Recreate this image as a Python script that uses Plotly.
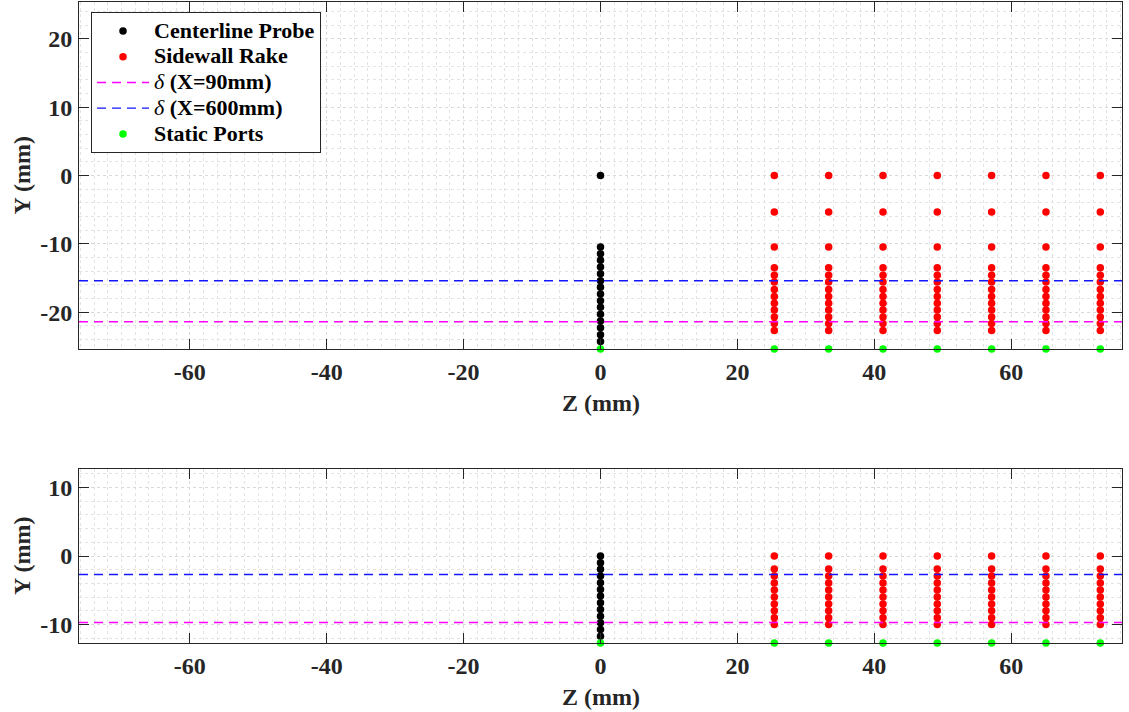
import plotly.graph_objects as go

# ---------------- data ----------------
# Top panel
cl_y_top = [0.0, -10.45, -11.45, -12.4, -13.4, -14.4, -15.4, -16.35, -17.35, -18.35,
            -19.3, -20.3, -21.3, -22.3, -23.3, -24.3]
rake_z = [25.4, 33.34, 41.28, 49.21, 57.15, 65.09, 73.03]
rake_y_top = [0.0, -5.35, -10.45, -13.5, -14.6, -15.6, -16.7, -17.7, -18.7, -19.7,
              -20.7, -21.65, -22.7]
static_z = [0.0, 25.4, 33.34, 41.28, 49.21, 57.15, 65.09, 73.03]
static_y_top = -25.4
delta90_top = -21.4
delta600_top = -15.4

# Bottom panel
cl_y_bot = [0.0, -0.98, -1.95, -2.93, -3.9, -4.88, -5.85, -6.83, -7.8, -8.78,
            -9.75, -10.73, -11.7]
rake_y_bot = [0.0, -1.9, -2.92, -3.94, -4.95, -5.97, -6.99, -8.0, -9.02, -10.0]
static_y_bot = -12.7
delta90_bot = -9.7
delta600_bot = -2.7

z_range = [-76.2, 76.2]
x_ticks = [-60, -40, -20, 0, 20, 40, 60]
x_ticktext = ["-60", "-40", "-20", "0", "20", "40", "60"]
y_ticks_top = [-20, -10, 0, 10, 20]
y_ticktext_top = ["-20", "-10", "0", "10", "20"]
y_ticks_bot = [-10, 0, 10]
y_ticktext_bot = ["-10", "0", "10"]

legend_names = ["Centerline Probe", "Sidewall Rake", "(X=90mm)", "(X=600mm)", "Static Ports"]

# ---------------- figure ----------------
W, H = 1129, 712
FONT = "Liberation Serif"
MS = 7.5
LEG_PX = 22

def lname(i, delta=False):
    t = legend_names[i]
    if delta:
        return f"<span style='font-size:{LEG_PX}px'><i>δ</i> <b>{t}</b></span>"
    return f"<span style='font-size:{LEG_PX}px'><b>{t}</b></span>"

fig = go.Figure()

def add_panel(idx, cl_y, rake_y, st_y, d90, d600, show):
    xa = "x" if idx == 1 else "x2"
    ya = "y" if idx == 1 else "y2"
    fig.add_trace(go.Scatter(
        x=[0.0] * len(cl_y), y=cl_y, mode="markers", name=lname(0),
        marker=dict(color="black", size=MS), showlegend=show, xaxis=xa, yaxis=ya))
    rx = [z for z in rake_z for _ in rake_y]
    ry = [y for _ in rake_z for y in rake_y]
    fig.add_trace(go.Scatter(
        x=rx, y=ry, mode="markers", name=lname(1),
        marker=dict(color="#ff0000", size=MS), showlegend=show, xaxis=xa, yaxis=ya))
    fig.add_trace(go.Scatter(
        x=z_range, y=[d90, d90], mode="lines", name=lname(2, True),
        line=dict(color="#ff00ff", width=1.5, dash="9px,6px"), showlegend=show,
        xaxis=xa, yaxis=ya))
    fig.add_trace(go.Scatter(
        x=z_range, y=[d600, d600], mode="lines", name=lname(3, True),
        line=dict(color="#1515ff", width=1.4, dash="9px,6px"), showlegend=show,
        xaxis=xa, yaxis=ya))
    fig.add_trace(go.Scatter(
        x=static_z, y=[st_y] * len(static_z), mode="markers", name=lname(4),
        marker=dict(color="#00ff00", size=MS), showlegend=show,
        xaxis=xa, yaxis=ya))

add_panel(1, cl_y_top, rake_y_top, static_y_top, delta90_top, delta600_top, True)
add_panel(2, cl_y_bot, rake_y_bot, static_y_bot, delta90_bot, delta600_bot, False)

for tr in fig.data:
    tr.cliponaxis = False

tickfont = dict(family=FONT, size=24, color="#262626", weight="bold")
titlefont = dict(family=FONT, size=24, color="#262626", weight="bold")

common = dict(
    ticks="inside", ticklen=10, tickcolor="#262626", tickwidth=1,
    showline=True, linecolor="#262626", linewidth=1, mirror="ticks",
    showgrid=True, gridcolor="#dadada", griddash="dot", gridwidth=1,
    minor=dict(dtick=2, showgrid=True, gridcolor="#e3e3e3", griddash="dot", gridwidth=1),
    zeroline=False, tickfont=tickfont, automargin=False,
)

def xaxis_cfg(anchor):
    return dict(domain=[79 / W, 1122 / W], range=z_range, anchor=anchor,
                tickvals=x_ticks, ticktext=x_ticktext, ticklabelstandoff=1, **common)

def yaxis_cfg(dom, rng, tv, tt, anchor):
    return dict(domain=dom, range=rng, anchor=anchor, tickvals=tv, ticktext=tt,
                ticklabelstandoff=1, **common)

top_y = (2, 349)
bot_y = (469, 643)

annotations = []
for (y0, y1) in (top_y, bot_y):
    annotations.append(dict(
        text="Z (mm)", xref="paper", yref="paper", x=600.5 / W, y=1 - (y1 + 54) / H,
        xanchor="center", yanchor="middle", showarrow=False, font=titlefont))
    annotations.append(dict(
        text="Y (mm)", xref="paper", yref="paper", x=22 / W, y=1 - ((y0 + y1) / 2) / H,
        xanchor="center", yanchor="middle", showarrow=False, font=titlefont,
        textangle=-90))

fig.update_layout(
    width=W, height=H,
    margin=dict(l=0, r=0, t=0, b=0),
    paper_bgcolor="white", plot_bgcolor="white",
    xaxis=xaxis_cfg("y"),
    yaxis=yaxis_cfg([(H - top_y[1]) / H, (H - top_y[0]) / H], [-25.4, 25.4],
                    y_ticks_top, y_ticktext_top, "x"),
    xaxis2=xaxis_cfg("y2"),
    yaxis2=yaxis_cfg([(H - bot_y[1]) / H, (H - bot_y[0]) / H], [-12.7, 12.7],
                     y_ticks_bot, y_ticktext_bot, "x2"),
    legend=dict(
        x=91 / W, y=1 - 12 / H, xanchor="left", yanchor="top",
        bgcolor="white", bordercolor="#262626", borderwidth=1,
        font=dict(family=FONT, size=17.5, color="black"),
        tracegroupgap=0, itemwidth=52,
    ),
    annotations=annotations,
    showlegend=True,
)

fig.write_html("out.html", config={"displayModeBar": False},
               post_script="document.body.style.margin='0';document.body.style.overflow='hidden';")
